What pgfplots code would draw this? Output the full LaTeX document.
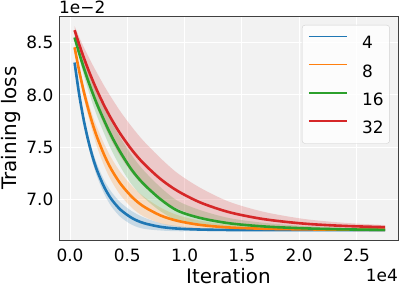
\documentclass[border=0pt]{standalone}
\usepackage{fontspec}
\setmainfont{DejaVu Sans}
\usepackage{pgfplots}
\usepackage{pgfplotstable}
\pgfplotsset{compat=1.18}
\usepgfplotslibrary{fillbetween}
\definecolor{cblue}{HTML}{1F77B4}
\definecolor{corange}{HTML}{FF7F0E}
\definecolor{cgreen}{HTML}{2CA02C}
\definecolor{cred}{HTML}{D62728}
\definecolor{bggray}{HTML}{F2F2F2}

\pgfplotstableread{
x m lo hi
400 8.310 8.298 8.322
800 8.005 7.980 8.030
1200 7.758 7.723 7.793
1600 7.559 7.509 7.609
2000 7.396 7.341 7.451
2400 7.265 7.205 7.325
3000 7.114 7.049 7.179
3600 7.003 6.933 7.073
4400 6.901 6.831 6.971
5400 6.821 6.756 6.886
6400 6.773 6.718 6.828
7900 6.736 6.701 6.771
9400 6.719 6.694 6.744
11400 6.710 6.695 6.725
13900 6.706 6.694 6.718
16900 6.705 6.696 6.714
20400 6.705 6.697 6.713
23900 6.705 6.697 6.713
27500 6.705 6.698 6.712
}\tblue

\pgfplotstableread{
x m lo hi
400 8.456 8.436 8.476
800 8.230 8.190 8.270
1200 8.033 7.978 8.088
1600 7.862 7.792 7.932
2000 7.713 7.633 7.793
2400 7.584 7.489 7.679
3000 7.421 7.316 7.526
3600 7.288 7.178 7.398
4400 7.150 7.040 7.260
5400 7.023 6.918 7.128
6400 6.933 6.838 7.028
7900 6.845 6.770 6.920
9400 6.793 6.738 6.848
11400 6.754 6.714 6.794
13900 6.730 6.705 6.755
16900 6.718 6.698 6.738
20400 6.712 6.697 6.727
23900 6.709 6.697 6.721
27500 6.708 6.696 6.720
}\torange

\pgfplotstableread{
x m lo hi
400 8.550 8.530 8.570
800 8.400 8.355 8.445
1200 8.260 8.190 8.330
1600 8.130 8.045 8.215
2000 8.010 7.910 8.110
2400 7.900 7.785 8.015
3000 7.750 7.625 7.875
3600 7.610 7.475 7.745
4400 7.450 7.310 7.590
5400 7.280 7.140 7.420
6400 7.150 7.020 7.280
7900 7.000 6.885 7.115
9400 6.890 6.795 6.985
11400 6.820 6.745 6.895
13900 6.770 6.720 6.820
16900 6.740 6.705 6.775
20400 6.722 6.700 6.744
23900 6.712 6.696 6.728
27500 6.707 6.697 6.717
}\tgreen

\pgfplotstableread{
x m lo hi
400 8.620 8.580 8.660
800 8.484 8.414 8.554
1200 8.358 8.258 8.458
1600 8.241 8.111 8.371
2000 8.133 7.983 8.283
2400 8.032 7.862 8.202
3000 7.894 7.704 8.084
3600 7.771 7.566 7.976
4400 7.626 7.411 7.841
5400 7.473 7.253 7.693
6400 7.346 7.131 7.561
7900 7.194 6.994 7.394
9400 7.079 6.909 7.249
11400 6.968 6.828 7.108
13900 6.876 6.776 6.976
16900 6.810 6.740 6.880
20400 6.767 6.722 6.812
23900 6.745 6.715 6.775
27500 6.733 6.713 6.753
}\tred

\begin{document}
\begin{tikzpicture}
\begin{axis}[name=ax, scale only axis, width=339bp, height=224bp,
  xmin=-960, xmax=28620, ymin=6.61, ymax=8.756,
  xtick={0,5000,10000,15000,20000,25000},
  xticklabels={0.0,0.5,1.0,1.5,2.0,2.5},
  ytick={7,7.5,8,8.5}, yticklabels={7.0,7.5,8.0,8.5},
  scaled x ticks=false, scaled y ticks=false,
  major tick length=0pt,
  grid=major, major grid style={white, line width=1bp},
  axis background/.style={fill=bggray},
  axis line style={black!75, line width=0.8bp},
  tick label style={font=\fontsize{17}{20}\selectfont, inner sep=0pt},
  xticklabel style={anchor=north, yshift=-9bp},
  yticklabel style={anchor=east, xshift=-5.5bp},
  label style={font=\fontsize{20}{24}\selectfont},
  xlabel={Iteration},
  xlabel style={at={(axis description cs:0.5,-0.1964)}, anchor=base, inner sep=0pt},
  ylabel={Training loss},
  ylabel style={at={(axis description cs:-0.1268,0.5)}, anchor=base, inner sep=0pt},
  legend style={at={(axis description cs:0.976,0.96)}, anchor=north east,
    font=\fontsize{17}{20}\selectfont, draw=black!18, fill=white, fill opacity=0.8,
    text opacity=1, rounded corners=3bp, inner xsep=6bp, inner ysep=10bp,
    row sep=14.5bp, nodes={inner sep=0pt, text height=12.4bp, text depth=0bp}},
  legend cell align=left,
  legend image code/.code={\draw[line width=1.5bp, sharp corners] (0bp,6.2bp) -- (38bp,6.2bp); \path (52bp,6.2bp);},
]
% bands
\addplot[name path=bhi, draw=none, smooth, forget plot] table[x=x,y=hi]{\tblue};
\addplot[name path=blo, draw=none, smooth, forget plot] table[x=x,y=lo]{\tblue};
\addplot[fill=cblue, fill opacity=0.2, draw=none, forget plot] fill between[of=bhi and blo];
\addplot[name path=ohi, draw=none, smooth, forget plot] table[x=x,y=hi]{\torange};
\addplot[name path=olo, draw=none, smooth, forget plot] table[x=x,y=lo]{\torange};
\addplot[fill=corange, fill opacity=0.2, draw=none, forget plot] fill between[of=ohi and olo];
\addplot[name path=ghi, draw=none, smooth, forget plot] table[x=x,y=hi]{\tgreen};
\addplot[name path=glo, draw=none, smooth, forget plot] table[x=x,y=lo]{\tgreen};
\addplot[fill=cgreen, fill opacity=0.2, draw=none, forget plot] fill between[of=ghi and glo];
\addplot[name path=rhi, draw=none, smooth, forget plot] table[x=x,y=hi]{\tred};
\addplot[name path=rlo, draw=none, smooth, forget plot] table[x=x,y=lo]{\tred};
\addplot[fill=cred, fill opacity=0.2, draw=none, forget plot] fill between[of=rhi and rlo];
% means
\addplot[cblue, line width=2.6bp, smooth] table[x=x,y=m]{\tblue};
\addlegendentry{4}
\addplot[corange, line width=2.6bp, smooth] table[x=x,y=m]{\torange};
\addlegendentry{8}
\addplot[cgreen, line width=2.6bp, smooth] table[x=x,y=m]{\tgreen};
\addlegendentry{16}
\addplot[cred, line width=2.6bp, smooth] table[x=x,y=m]{\tred};
\addlegendentry{32}
\end{axis}
\node[anchor=base west, inner sep=0pt, font=\fontsize{17}{20}\selectfont] at ([yshift=2.7bp]ax.north west) {1e−2};
\node[anchor=base east, inner sep=0pt, font=\fontsize{17}{20}\selectfont] at ([yshift=-41bp]ax.south east) {1e4};
\pgfresetboundingbox
\path[use as bounding box] ([xshift=-59bp,yshift=-49bp]ax.south west) rectangle ([xshift=1bp,yshift=16bp]ax.north east);
\end{tikzpicture}
\end{document}
